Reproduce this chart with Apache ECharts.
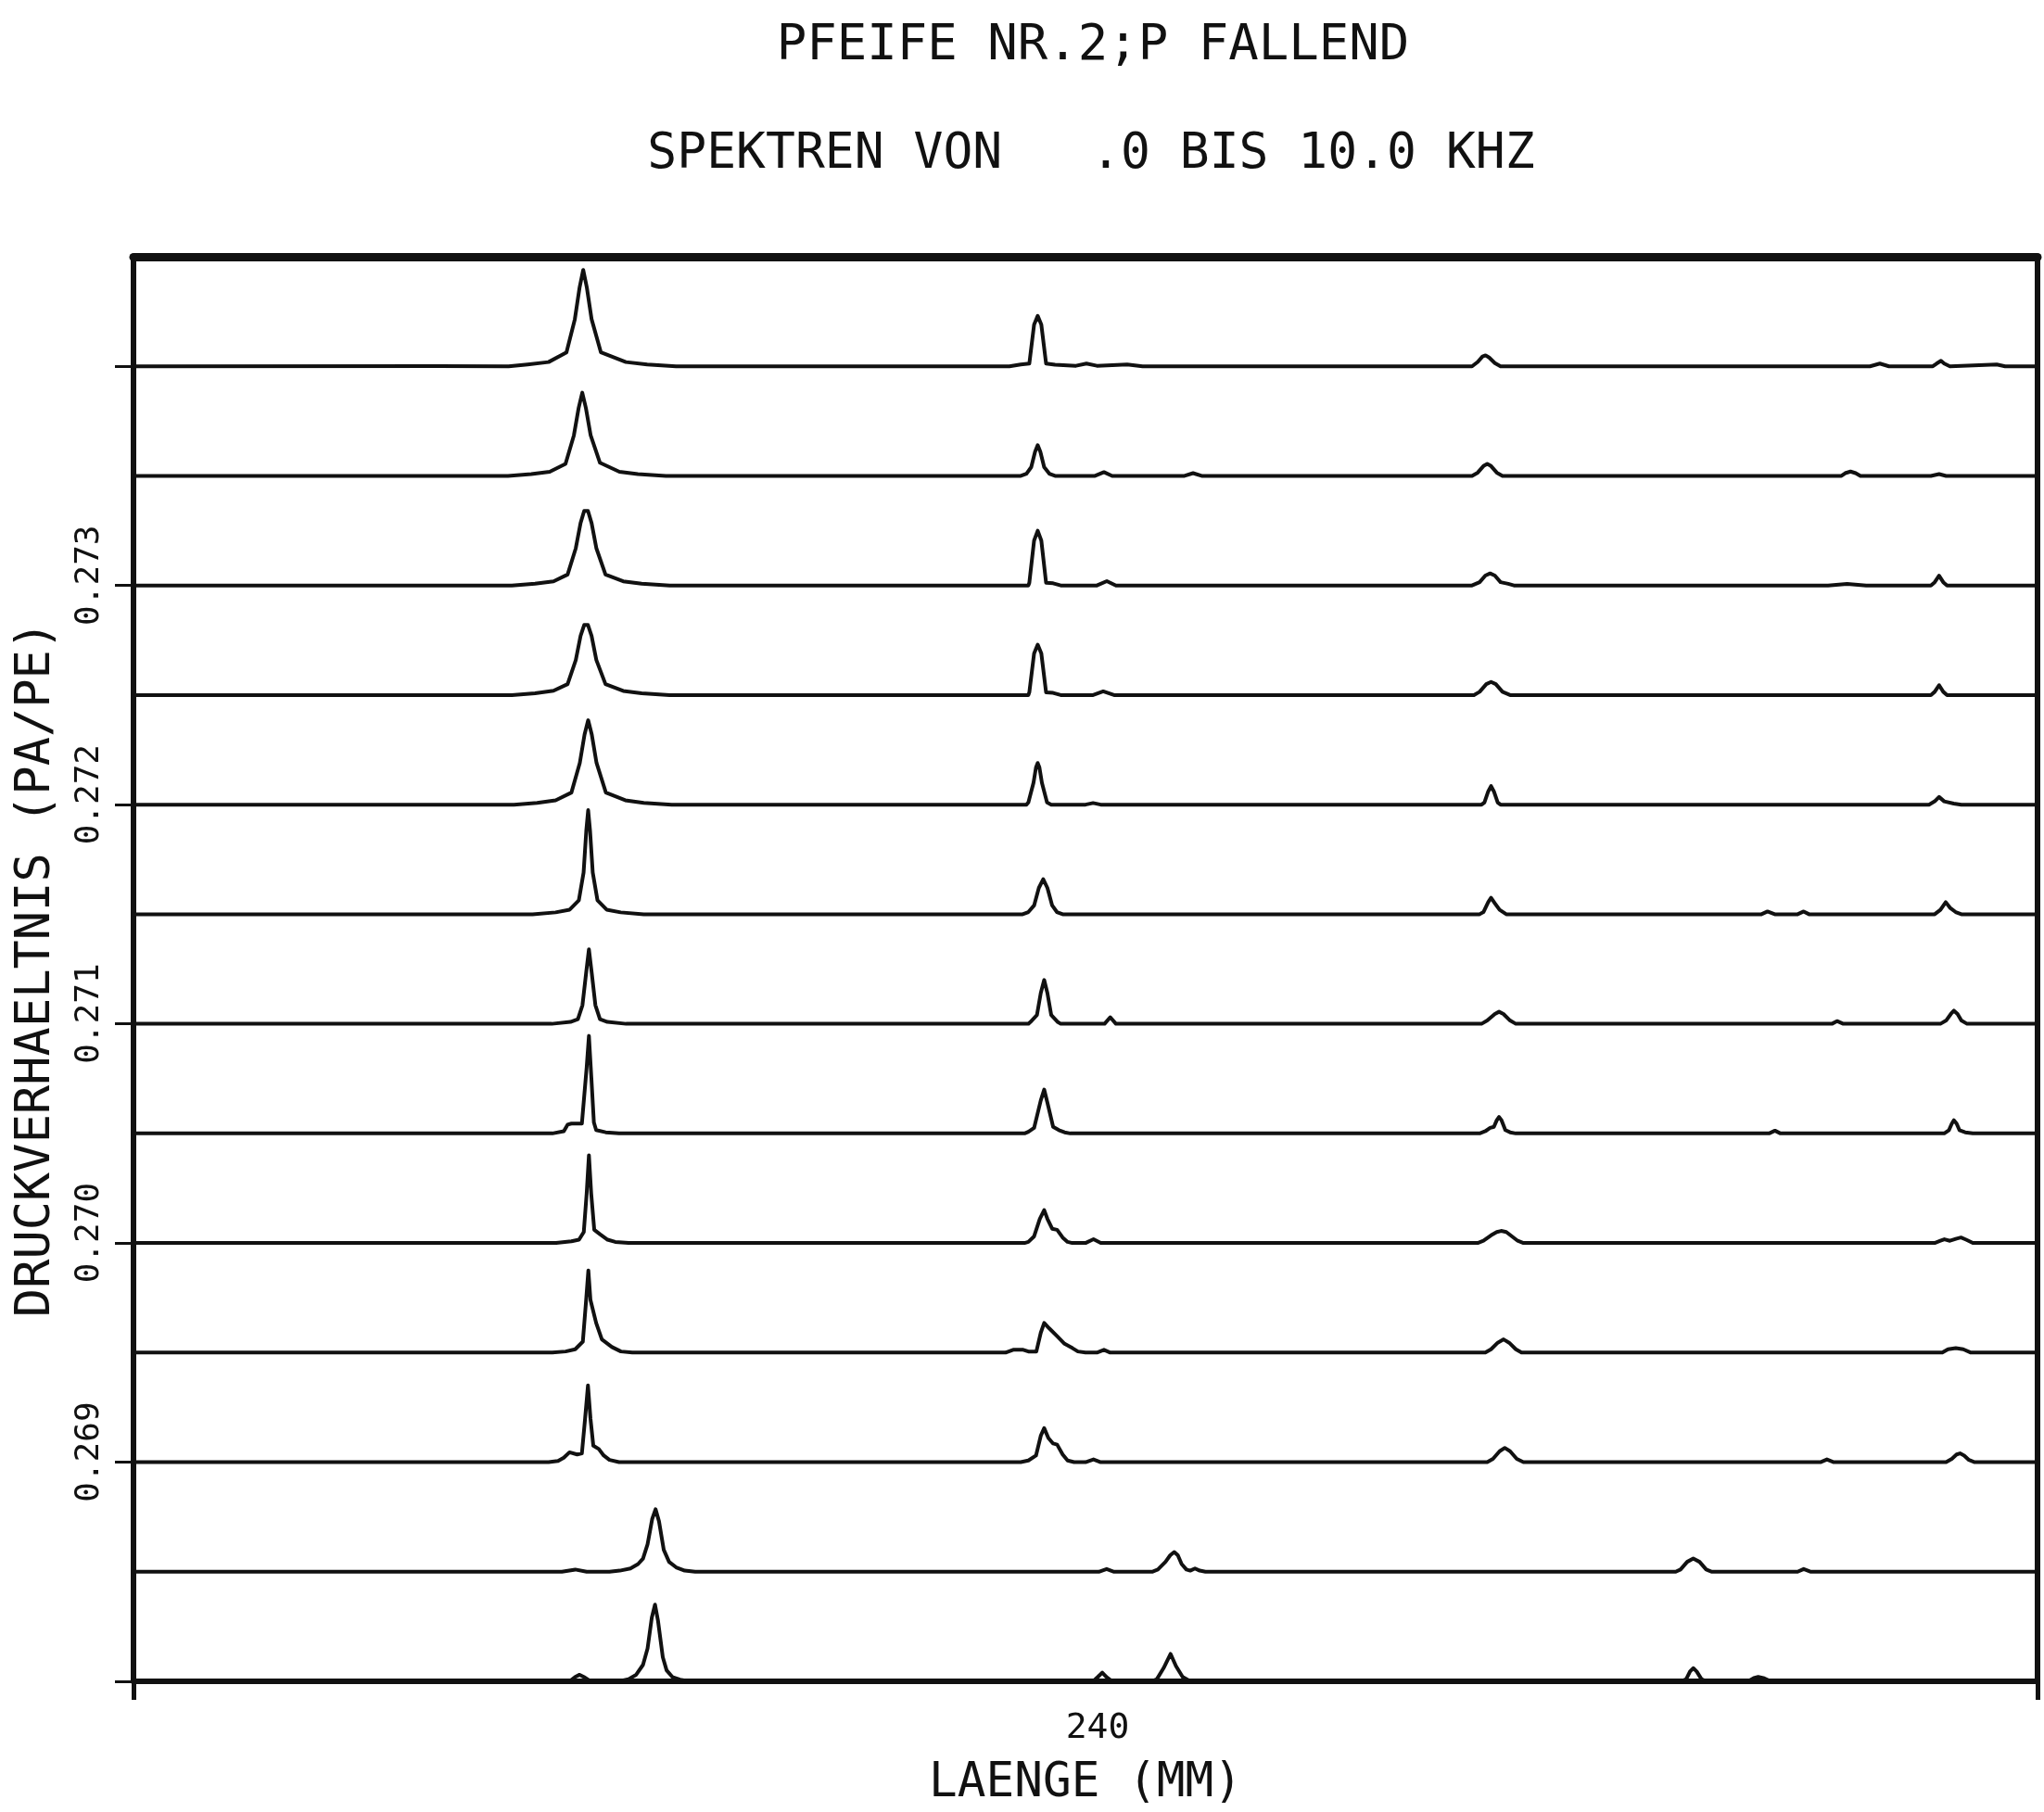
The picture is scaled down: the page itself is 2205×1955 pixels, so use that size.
<!DOCTYPE html>
<html>
<head>
<meta charset="utf-8">
<script src="https://cdn.jsdelivr.net/npm/echarts@6/dist/echarts.min.js"></script>
<style>
  html, body { margin: 0; padding: 0; background: #fff; }
  #chart { width: 2205px; height: 1955px; }
</style>
</head>
<body>
<div id="chart"></div>
<script>
// Pressure ratio (PA/PE) at which each spectrum was recorded, top row first.
const rowLevels = [0.2740, 0.2735, 0.2730, 0.2725, 0.2720, 0.2715, 0.2710,
                   0.2705, 0.2700, 0.2695, 0.2690, 0.2685, 0.2680];
// Tick marks and printed labels on the ratio axis.
const yTickValues = [0.268, 0.269, 0.270, 0.271, 0.272, 0.273, 0.274];
const yTickLabels = [0.269, 0.270, 0.271, 0.272, 0.273];
// Pipe length of this measurement series.
const lengthLabels = ['240'];
// Height of one spectrum row in ratio units (amplitude 100 fills one row).
const rowSpacing = 0.0005;

// Spectra 0 .. 10 kHz: [frequency kHz, relative amplitude in % of row height].
const spec01 = [[0,0],[1.60,0.3],[1.97,0],[2.07,1.7],[2.18,3.9],[2.274,12.7],[2.318,43],[2.343,72],[2.362,88],[2.381,72],[2.406,43],[2.455,12.7],[2.586,3.9],[2.698,1.7],[2.85,0],
  [4.60,0],[4.66,1.7],[4.705,2.5],[4.730,38],[4.749,46],[4.768,38],[4.793,2.5],[4.84,1.5],[4.95,0.5],[5.005,2.5],[5.06,0.5],[5.219,1.7],[5.30,0],
  [7.03,0],[7.06,4],[7.085,9],[7.101,10],[7.12,8],[7.15,3],[7.18,0],
  [9.12,0],[9.172,2.5],[9.22,0],[9.45,0],[9.47,2.5],[9.493,5],[9.51,2.5],[9.54,0],[9.786,1.7],[9.83,0],[10,0]];
const spec02 = [[0,0],[1.967,0],[2.089,1.7],[2.186,3.8],[2.269,11],[2.313,37],[2.338,62],[2.357,76],[2.376,62],[2.401,37],[2.450,12],[2.552,3.8],[2.649,1.7],[2.796,0],
  [4.66,0],[4.69,2],[4.715,8],[4.735,22],[4.749,28],[4.763,22],[4.783,8],[4.81,2],[4.84,0],
  [5.05,0],[5.097,3.4],[5.14,0],[5.52,0],[5.565,2.5],[5.61,0],
  [7.03,0],[7.06,3],[7.09,9],[7.11,11],[7.13,9],[7.16,3],[7.19,0],
  [8.97,0],[8.99,2.5],[9.018,4],[9.045,2.5],[9.07,0],[9.44,0],[9.483,1.7],[9.52,0],[10,0]];
const spec03 = [[0,0],[1.987,0],[2.109,1.7],[2.206,3.8],[2.280,10],[2.323,34],[2.348,57],[2.367,68],[2.387,68],[2.406,57],[2.431,34],[2.479,10],[2.572,3.8],[2.669,1.7],[2.816,0],
  [4.70,0],[4.705,2.5],[4.730,41],[4.749,50],[4.768,41],[4.793,2.5],[4.83,2],[4.87,0],
  [5.06,0],[5.112,4],[5.16,0],
  [7.03,0],[7.07,3],[7.10,9],[7.125,11],[7.15,9],[7.18,3],[7.22,1.5],[7.25,0],
  [8.90,0],[9.00,1.5],[9.10,0],
  [9.44,0],[9.46,3],[9.483,9],[9.505,3],[9.525,0],[10,0]];
const spec04 = [[0,0],[1.987,0],[2.109,1.7],[2.206,4],[2.280,10],[2.323,32],[2.348,54],[2.367,64],[2.387,64],[2.406,54],[2.431,32],[2.479,10],[2.572,3.8],[2.669,1.7],[2.816,0],
  [4.70,0],[4.705,2.5],[4.730,38],[4.749,46],[4.768,38],[4.793,2.5],[4.83,2],[4.87,0],
  [5.04,0],[5.093,3.4],[5.15,0],
  [7.04,0],[7.07,3],[7.105,10],[7.13,12],[7.155,10],[7.19,3],[7.23,0],
  [9.44,0],[9.46,3],[9.483,9],[9.505,3],[9.525,0],[10,0]];
const spec05 = [[0,0],[1.998,0],[2.120,1.7],[2.217,4],[2.300,11],[2.344,38],[2.369,64],[2.388,77],[2.407,64],[2.432,38],[2.481,11],[2.583,4],[2.680,1.7],[2.827,0],
  [4.69,0],[4.70,2],[4.727,20],[4.740,34],[4.749,38],[4.758,34],[4.771,20],[4.798,2],[4.82,0],
  [5.00,0],[5.04,1.5],[5.08,0],
  [7.08,0],[7.095,2],[7.115,12],[7.13,17],[7.145,12],[7.165,2],[7.18,0],
  [9.43,0],[9.46,3],[9.483,7],[9.51,3],[9.56,1],[9.60,0],[10,0]];
const spec06 = [[0,0],[2.096,0],[2.217,1.7],[2.291,4.2],[2.339,12.7],[2.364,38],[2.378,76],[2.388,95],[2.398,76],[2.412,38],[2.437,12.7],[2.485,4.2],[2.559,1.7],[2.680,0],
  [4.67,0],[4.70,2],[4.73,8],[4.755,24],[4.778,32],[4.80,24],[4.825,8],[4.85,2],[4.88,0],
  [7.07,0],[7.09,2],[7.115,11],[7.13,15],[7.15,10],[7.175,4],[7.21,0],
  [8.55,0],[8.582,2.5],[8.62,0],[8.74,0],[8.772,2.5],[8.80,0],
  [9.46,0],[9.49,4],[9.518,11],[9.54,6],[9.57,2],[9.60,0],[10,0]];
const spec07 = [[0,0],[2.197,0],[2.295,1.7],[2.334,4.2],[2.358,17],[2.377,46],[2.392,68],[2.407,46],[2.426,17],[2.450,4.2],[2.489,1.7],[2.587,0],
  [4.70,0],[4.71,1.5],[4.745,8],[4.765,28],[4.783,40],[4.80,28],[4.82,8],[4.855,1.5],[4.87,0],
  [5.10,0],[5.13,6],[5.16,0],
  [7.08,0],[7.11,3],[7.15,9],[7.172,11],[7.195,9],[7.23,3],[7.26,0],
  [8.92,0],[8.947,2.5],[8.98,0],
  [9.49,0],[9.52,3],[9.545,9],[9.561,12],[9.58,9],[9.60,3],[9.63,0],[10,0]];
const spec08 = [[0,0],[2.20,0],[2.26,2],[2.28,8],[2.30,9],[2.33,9],[2.355,9],[2.362,10],[2.38,60],[2.392,89],[2.405,50],[2.418,10],[2.43,3],[2.48,1],[2.55,0],
  [4.68,0],[4.70,1.5],[4.73,5],[4.765,30],[4.783,40],[4.80,28],[4.83,6],[4.86,3],[4.89,1],[4.92,0],
  [7.07,0],[7.10,2],[7.125,5],[7.145,6],[7.16,12],[7.172,15],[7.185,12],[7.205,3],[7.23,1],[7.26,0],
  [8.59,0],[8.621,2.5],[8.65,0],
  [9.51,0],[9.535,3],[9.55,9],[9.561,12],[9.575,9],[9.59,3],[9.62,1],[9.66,0],[10,0]];
const spec09 = [[0,0],[2.22,0],[2.30,1.5],[2.34,3],[2.365,10],[2.38,45],[2.392,80],[2.404,45],[2.42,12],[2.45,8],[2.49,3],[2.53,1],[2.60,0],
  [4.68,0],[4.70,1],[4.73,6],[4.76,22],[4.783,30],[4.80,22],[4.825,13],[4.851,12],[4.88,5],[4.906,1],[4.93,0],
  [5.00,0],[5.042,3.4],[5.08,0],
  [7.06,0],[7.09,2],[7.13,7],[7.16,10],[7.183,11],[7.21,10],[7.24,6],[7.27,2],[7.30,0],
  [9.46,0],[9.49,2],[9.511,3.4],[9.54,2],[9.575,4],[9.598,5],[9.625,3],[9.66,0],[10,0]];
const spec10 = [[0,0],[2.20,0],[2.27,1],[2.32,3],[2.36,10],[2.376,45],[2.389,75],[2.40,48],[2.43,27],[2.46,12],[2.513,5],[2.56,1],[2.62,0],
  [4.58,0],[4.62,2.5],[4.673,2.5],[4.70,1],[4.742,1],[4.765,18],[4.783,27],[4.81,22],[4.851,15],[4.89,8],[4.932,4],[4.96,1],[5.00,0],
  [5.06,0],[5.097,2.5],[5.13,0],
  [7.10,0],[7.13,3],[7.165,9],[7.196,12],[7.225,9],[7.26,3],[7.29,0],
  [9.50,0],[9.53,3],[9.571,4],[9.61,3],[9.65,0],[10,0]];
const spec11 = [[0,0],[2.18,0],[2.23,1],[2.26,4],[2.29,9],[2.33,7],[2.355,8],[2.372,40],[2.387,70],[2.40,40],[2.415,15],[2.444,12],[2.47,6],[2.50,2],[2.55,0],
  [4.66,0],[4.70,1.5],[4.74,6],[4.765,24],[4.783,31],[4.805,22],[4.83,17],[4.851,16],[4.88,7],[4.906,1.5],[4.94,0],
  [5.00,0],[5.042,2.5],[5.08,0],
  [7.11,0],[7.14,3],[7.175,10],[7.202,13],[7.23,10],[7.265,3],[7.30,0],
  [8.86,0],[8.894,2.5],[8.93,0],
  [9.52,0],[9.55,3],[9.575,7],[9.593,8],[9.615,6],[9.64,2],[9.67,0],[10,0]];
const spec12 = [[0,0],[2.25,0],[2.32,2],[2.38,0],[2.50,0],[2.554,1],[2.61,3],[2.65,7],[2.676,12],[2.70,25],[2.724,48],[2.742,57],[2.76,46],[2.785,20],[2.813,9],[2.85,4],[2.895,1],[2.95,0],
  [5.07,0],[5.111,2.5],[5.15,0],
  [5.35,0],[5.38,2],[5.42,9],[5.445,15],[5.466,18],[5.485,15],[5.505,7],[5.53,2],[5.55,1],[5.575,3],[5.60,1],[5.63,0],
  [8.10,0],[8.125,2],[8.16,9],[8.192,12],[8.225,9],[8.26,2],[8.29,0],
  [8.74,0],[8.772,2.5],[8.81,0],[10,0]];
const spec13 = [[0,0],[2.29,0],[2.32,4],[2.343,6],[2.365,4],[2.40,0],
  [2.55,0],[2.60,2],[2.64,6],[2.676,15],[2.70,30],[2.722,58],[2.739,70],[2.755,55],[2.78,22],[2.80,10],[2.83,4],[2.87,1.5],[2.92,0],
  [5.04,0],[5.065,4],[5.088,8],[5.11,4],[5.14,0],
  [5.35,0],[5.375,2],[5.41,12],[5.447,25],[5.475,14],[5.51,4],[5.54,1],[5.57,0],
  [8.13,0],[8.155,2],[8.175,9],[8.192,12],[8.21,9],[8.235,2],[8.26,0],
  [8.48,0],[8.51,3],[8.533,4],[8.56,3],[8.60,0],[10,0]];

const spectra = [spec01, spec02, spec03, spec04, spec05, spec06, spec07,
                 spec08, spec09, spec10, spec11, spec12, spec13];

const FONT = '"DejaVu Sans Mono", "Liberation Mono", monospace';
const INK = '#111';
const textStyle = (size) => ({ fontFamily: FONT, fontSize: size, fontWeight: 'normal', color: INK });

// Each spectrum is drawn on its own baseline: level + amplitude share of one row.
const series = spectra.map((spec, i) => ({
  type: 'line',
  xAxisIndex: 0,
  yAxisIndex: 0,
  symbol: 'none',
  silent: true,
  clip: false,
  lineStyle: { color: INK, width: 4, join: 'round' },
  data: spec.map(([f, a]) => [f, rowLevels[i] + a / 100 * rowSpacing])
}));

const chart = echarts.init(document.getElementById('chart'), null, { renderer: 'canvas' });
chart.setOption({
  backgroundColor: '#fff',
  animation: false,
  title: [
    { text: 'PFEIFE NR.2;P FALLEND', left: 1174, top: 18, textAlign: 'center', textStyle: textStyle(54) },
    { text: 'SPEKTREN VON   .0 BIS 10.0 KHZ', left: 1172, top: 136, textAlign: 'center', textStyle: textStyle(53) }
  ],
  grid: { left: 144, right: 7, top: 277, bottom: 137 },
  xAxis: [
    {
      type: 'value', min: 0, max: 10, interval: 10, position: 'bottom',
      axisLine: { show: true, onZero: false, lineStyle: { color: INK, width: 6 } },
      axisTick: { show: true, length: 20, lineStyle: { color: INK, width: 5 } },
      axisLabel: { show: false },
      splitLine: { show: false },
      name: 'LAENGE (MM)', nameLocation: 'middle', nameGap: 85,
      nameTextStyle: textStyle(51)
    },
    {
      type: 'category', data: lengthLabels, position: 'bottom',
      axisLine: { show: false }, axisTick: { show: false }, splitLine: { show: false },
      axisLabel: { margin: 32, padding: [0, 0, 0, 26], ...textStyle(38) }
    },
    {
      type: 'value', min: 0, max: 10, position: 'top',
      axisLine: { show: true, onZero: false, lineStyle: { color: INK, width: 9 } },
      axisTick: { show: false }, axisLabel: { show: false }, splitLine: { show: false }
    }
  ],
  yAxis: [
    {
      type: 'value', min: 0.268, max: 0.2745, interval: 0.001, position: 'left',
      axisLine: { show: true, onZero: false, lineStyle: { color: INK, width: 6 } },
      axisTick: { show: true, customValues: yTickValues, length: 20, lineStyle: { color: INK, width: 3 } },
      axisLabel: {
        customValues: yTickLabels, rotate: 90, margin: 29, padding: [0, 0, 0, 22],
        formatter: (v) => v.toFixed(3), ...textStyle(36)
      },
      splitLine: { show: false },
      name: 'DRUCKVERHAELTNIS (PA/PE)', nameLocation: 'middle', nameGap: 79, nameRotate: 90,
      nameTextStyle: textStyle(52)
    },
    {
      type: 'value', min: 0.268, max: 0.2745, position: 'right',
      axisLine: { show: true, onZero: false, lineStyle: { color: INK, width: 6 } },
      axisTick: { show: false }, axisLabel: { show: false }, splitLine: { show: false }
    }
  ],
  series
});
</script>
</body>
</html>
